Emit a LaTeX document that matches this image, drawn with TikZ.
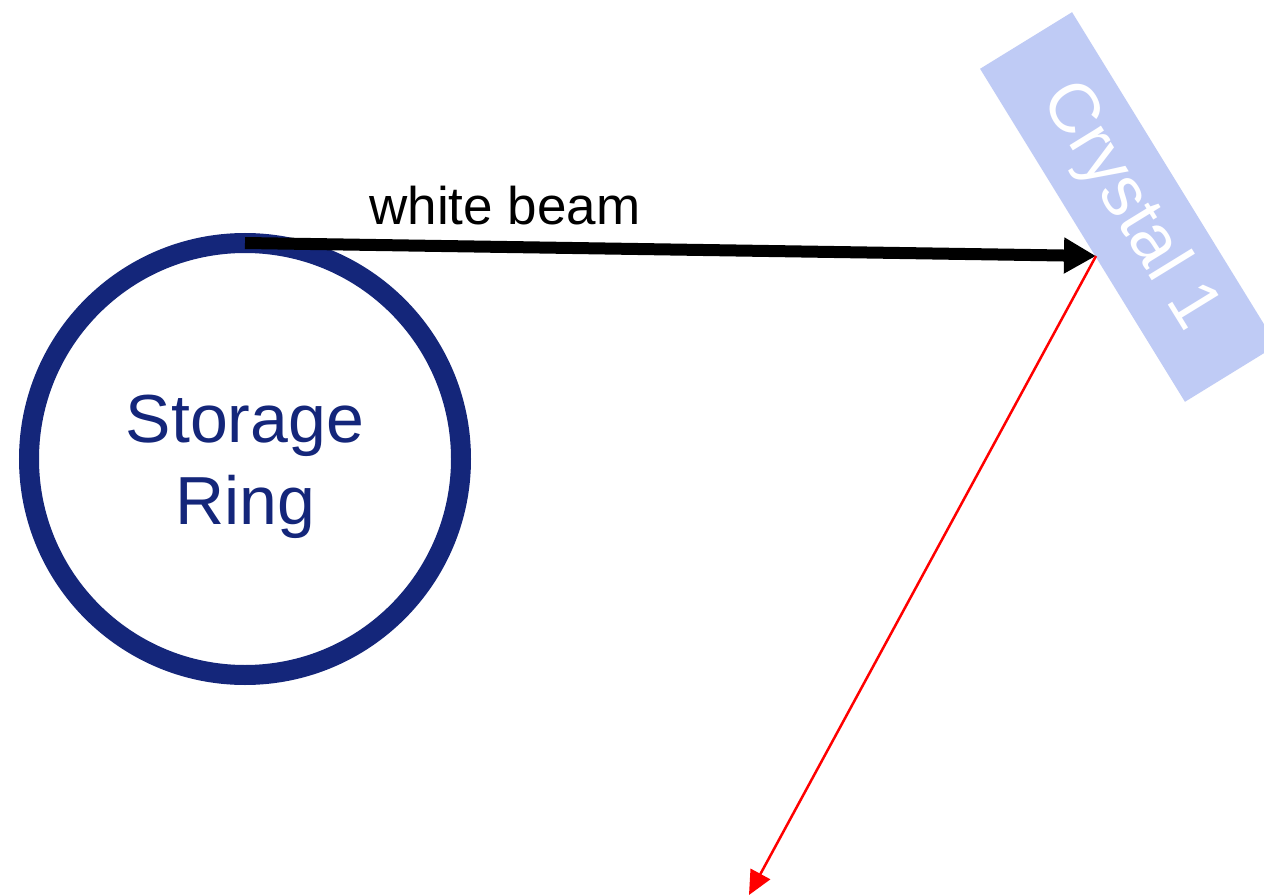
\documentclass[tikz,border=0pt]{standalone}
\usepackage{fontspec}
\setmainfont{Liberation Sans}
\usetikzlibrary{arrows.meta}
\definecolor{ringblue}{HTML}{14267A}
\definecolor{crystalblue}{HTML}{BFCBF5}
\definecolor{rayred}{HTML}{FF0000}
\tikzset{
  ringstyle/.style={circle, draw=ringblue, line width=20pt, minimum size=432pt, inner sep=0pt},
  ringlabel/.style={text=ringblue, align=center, inner sep=0pt, font=\fontsize{68}{82}\selectfont},
  crystalstyle/.style={rectangle, fill=crystalblue, minimum width=391pt, minimum height=108pt,
    inner sep=0pt, text=white, font=\fontsize{70}{84}\selectfont},
  beamstyle/.style={line width=12pt, -{Triangle[length=32pt,width=34pt]}},
  raystyle/.style={draw=rayred, line width=2.5pt, -{Triangle[length=24pt,width=22pt]}},
  labelstyle/.style={font=\fontsize{53}{64}\selectfont, anchor=base, inner sep=0pt}
}
\begin{document}
\begin{tikzpicture}[x=1pt,y=-1pt]
  \clip (0,0) rectangle (1264,896);
  \fill[white] (0,0) rectangle (1264,896);
  \node[crystalstyle, rotate=-58.4] (crystal) at (1128.5,207) {Crystal 1};
  \node[ringstyle] (ring) at (245,459) {};
  \node[ringlabel] (ringtxt) at (245,467) {Storage\\Ring};
  \coordinate (src) at (245,243);
  \coordinate (hit) at (1096,256);
  \coordinate (out) at (749,895);
  \node[labelstyle] (wb) at (505,225) {white beam};
  \draw[beamstyle] (src) -- (hit);
  \draw[raystyle] (hit) -- (out);
\end{tikzpicture}
\end{document}
